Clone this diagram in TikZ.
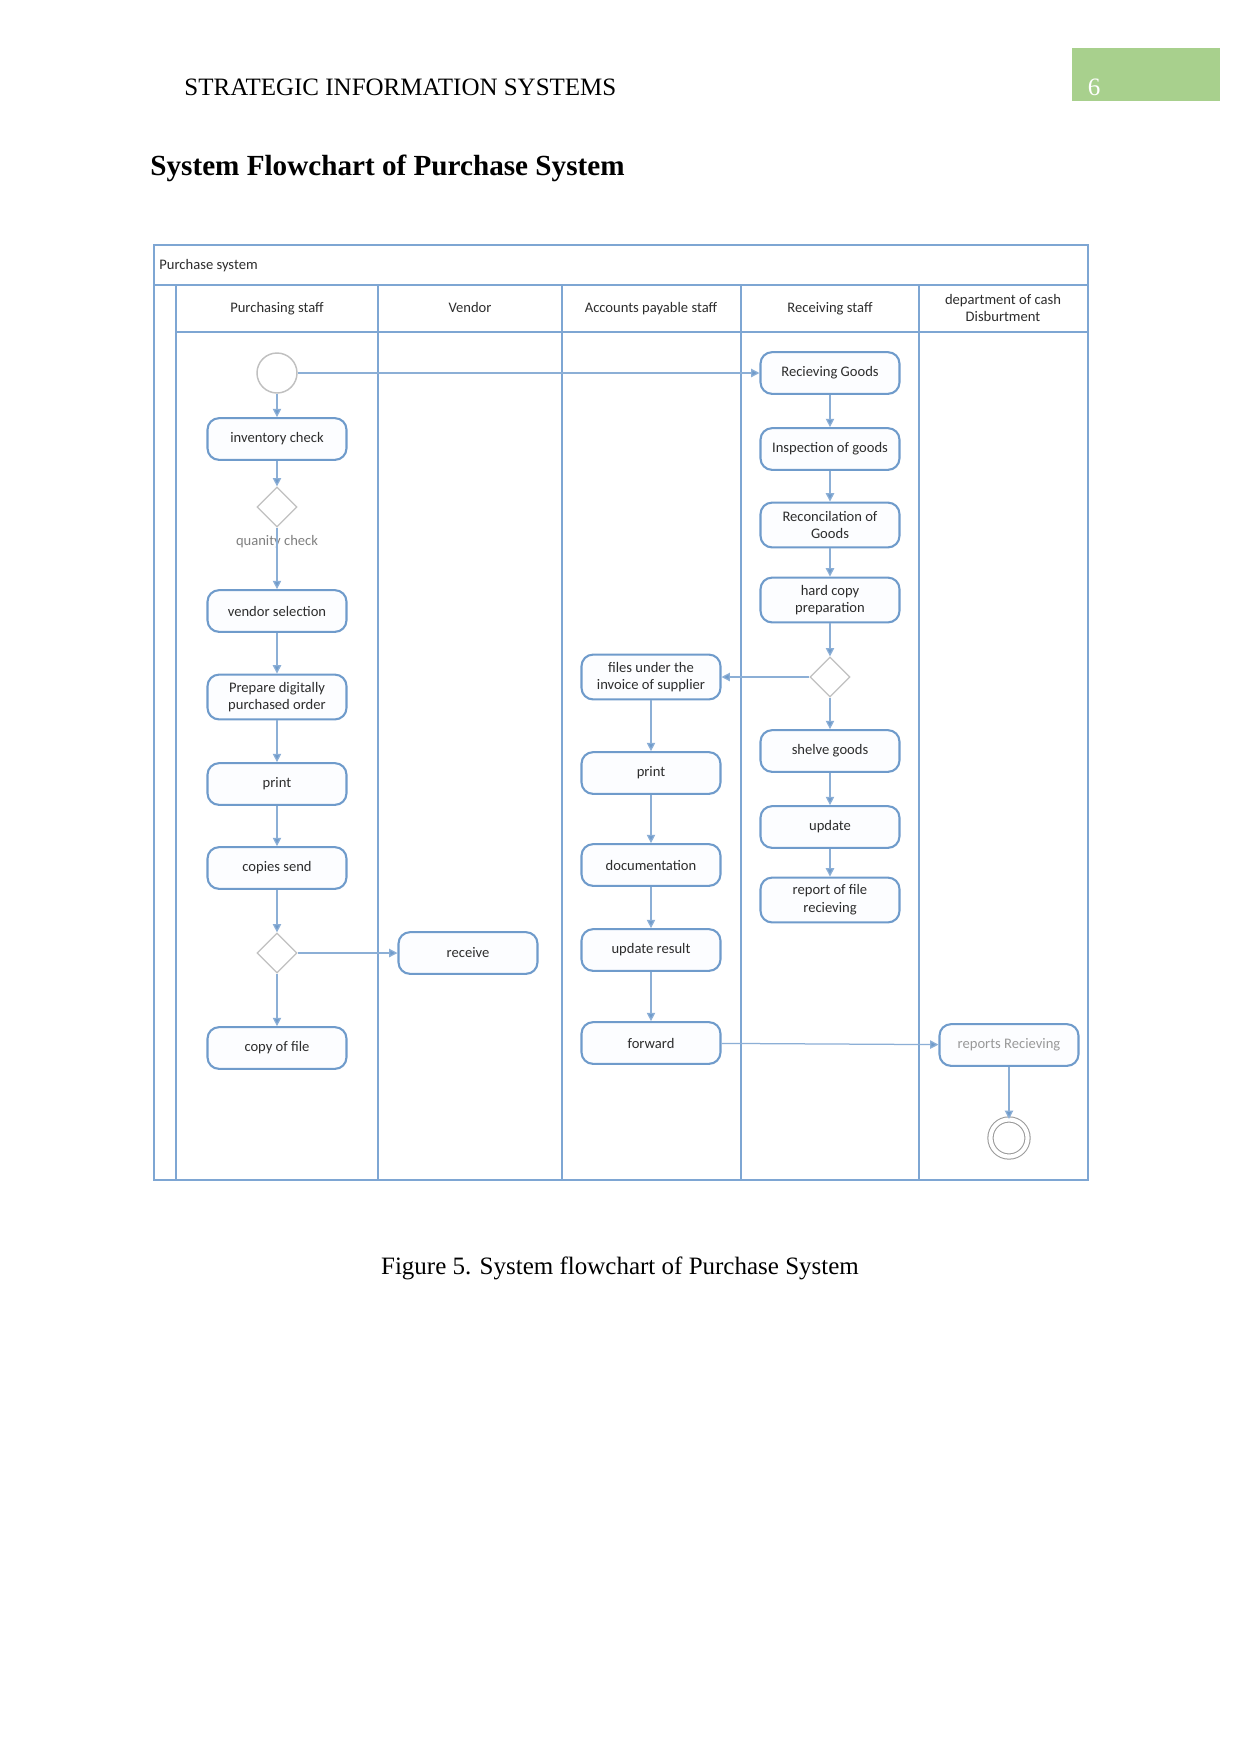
\documentclass[tikz,border=0pt]{standalone}
\usepackage{fontspec}
\setmainfont{Liberation Serif}
\newfontfamily\dfont{Carlito}
\usetikzlibrary{shapes.geometric,arrows.meta}
\definecolor{lanec}{RGB}{126,166,211}
\definecolor{boxc}{RGB}{111,155,203}
\definecolor{boxfill}{RGB}{252,253,255}
\definecolor{connc}{RGB}{140,175,214}
\definecolor{decc}{RGB}{192,192,192}
\definecolor{txtc}{RGB}{45,45,45}
\definecolor{pagegreen}{RGB}{168,208,141}
\begin{document}
\begin{tikzpicture}[x=0.48pt,y=-0.48pt,
  lanel/.style={draw=lanec, line width=1.4pt},
  hdr/.style={font=\dfont\fontsize{7}{8.5}\selectfont, text=txtc, align=center, inner sep=0pt},
  hdrone/.style={hdr, anchor=base},
  act/.style={draw=boxc, line width=1pt, rounded corners=5.5pt, fill=boxfill, minimum width=66.7pt, minimum height=20pt, align=center, font=\dfont\fontsize{7}{8.5}\selectfont, text=txtc, inner sep=1pt},
  acttall/.style={act, minimum height=21.5pt},
  dec/.style={diamond, draw=decc, line width=0.6pt, fill=white, minimum width=19.2pt, minimum height=19.2pt, inner sep=0pt},
  flow/.style={draw=connc, line width=0.6pt, -{Triangle[length=4pt,width=4pt,fill=boxc]}}
]
\useasboundingbox (0,0) rectangle (1241,1754);
\fill[white] (0,0) rectangle (1241,1754);

% page header
\fill[pagegreen] (1072,48) rectangle (1220,101);
\node[text=white, font=\fontsize{12}{14}\selectfont, inner sep=0pt] (pgnum) at (1094,87) {6};
\node[anchor=west, font=\fontsize{12}{14}\selectfont, inner sep=0pt] (runhead) at (184,87) {STRATEGIC INFORMATION SYSTEMS};
\node[anchor=west, font=\bfseries\fontsize{14}{16}\selectfont, inner sep=0pt] (title) at (150,168) {System Flowchart of Purchase System};
\node[font=\fontsize{12}{14}\selectfont, inner sep=0pt] (caption) at (620,1268) {Figure 5. System flowchart of Purchase System};

% swimlane frame
\draw[lanel] (154,245) rectangle (1088,1180);
\draw[lanel] (154,285) -- (1088,285);
\draw[lanel] (176,285) -- (176,1180);
\draw[lanel] (176,332) -- (1088,332);
\foreach \xx in {378,562,741,919} \draw[lanel] (\xx,285) -- (\xx,1180);

\node[hdr, anchor=west] (pstitle) at (159,266) {Purchase system};
\node[hdrone] (h1) at (277,312) {Purchasing staff};
\node[hdrone] (h2) at (470,312) {Vendor};
\node[hdrone] (h3) at (651,312) {Accounts payable staff};
\node[hdrone] (h4) at (830,312) {Receiving staff};
\node[hdr] (h5) at (1003,308) {department of cash\\Disburtment};

% Purchasing staff lane
\node[circle, draw=decc, line width=0.7pt, fill=white, minimum size=19.2pt, inner sep=0pt] (start) at (277,373) {};
\node[act] (inv) at (277,439) {inventory check};
\node[dec] (d1) at (277,507) {};
\node[font=\dfont\fontsize{7}{8}\selectfont, text=gray, inner sep=0pt] (qlab) at (277,542) {quanity check};
\node[act] (vsel) at (277,611) {vendor selection};
\node[acttall] (prep) at (277,697) {Prepare digitally\\purchased order};
\node[act] (print1) at (277,784) {print};
\node[act] (copies) at (277,868) {copies send};
\node[dec] (d2) at (277,953) {};
\node[act] (copyf) at (277,1048) {copy of file};

% Vendor lane
\node[act] (recv) at (468,953) {receive};

% Accounts payable lane
\node[acttall] (files) at (651,677) {files under the\\invoice of supplier};
\node[act] (print2) at (651,773) {print};
\node[act] (docu) at (651,865) {documentation};
\node[act] (updres) at (651,950) {update result};
\node[act] (fwd) at (651,1043) {forward};

% Receiving staff lane
\node[act] (rgoods) at (830,373) {Recieving Goods};
\node[act] (insp) at (830,449) {Inspection of goods};
\node[acttall] (recon) at (830,525) {Reconcilation of\\Goods};
\node[acttall] (hard) at (830,600) {hard copy\\preparation};
\node[dec] (d3) at (830,677) {};
\node[act] (shelve) at (830,751) {shelve goods};
\node[act] (upd) at (830,827) {update};
\node[acttall] (report) at (830,900) {report of file\\recieving};

% Cash disbursement lane
\node[act, text=gray!80] (reps) at (1009,1045) {reports Recieving};
\node[circle, draw=decc!80!black, line width=0.5pt, double=white, double distance=2pt, minimum size=17.8pt, inner sep=0pt] (endn) at (1009,1138) {};

% connectors
\draw[flow] (start) -- (rgoods);
\draw[flow] (start) -- (inv);
\draw[flow] (inv) -- (d1);
\draw[flow] (d1) -- (vsel);
\draw[flow] (vsel) -- (prep);
\draw[flow] (prep) -- (print1);
\draw[flow] (print1) -- (copies);
\draw[flow] (copies) -- (d2);
\draw[flow] (d2) -- (recv);
\draw[flow] (d2) -- (copyf);

\draw[flow] (rgoods) -- (insp);
\draw[flow] (insp) -- (recon);
\draw[flow] (recon) -- (hard);
\draw[flow] (hard) -- (d3);
\draw[flow] (d3) -- (shelve);
\draw[flow] (shelve) -- (upd);
\draw[flow] (upd) -- (report);
\draw[flow] (d3) -- (files);

\draw[flow] (files) -- (print2);
\draw[flow] (print2) -- (docu);
\draw[flow] (docu) -- (updres);
\draw[flow] (updres) -- (fwd);
\draw[flow] (fwd) -- (reps);
\draw[flow] (reps) -- (endn);
\end{tikzpicture}
\end{document}
